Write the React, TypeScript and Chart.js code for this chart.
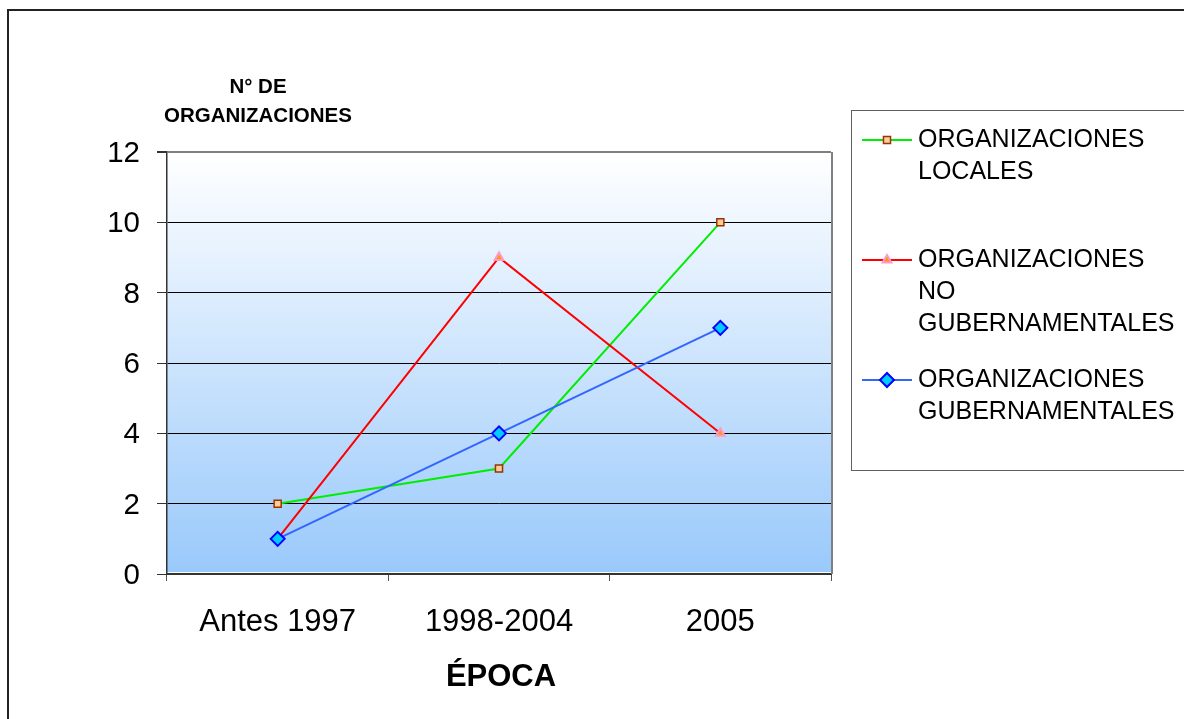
import { useEffect, useRef } from 'react';
import { Chart, registerables } from 'chart.js';

Chart.register(...registerables);

// Número de organizaciones por época
const epocas = ['Antes 1997', '1998-2004', '2005'];
const locales = [2, 3, 10];
const noGubernamentales = [1, 9, 4];
const gubernamentales = [1, 4, 7];

const legendLabels = [
  ['ORGANIZACIONES', 'LOCALES'],
  ['ORGANIZACIONES', 'NO', 'GUBERNAMENTALES'],
  ['ORGANIZACIONES', 'GUBERNAMENTALES'],
];
const yTitle = ['N° DE', 'ORGANIZACIONES'];
const xTitle = 'ÉPOCA';

const FONT = '"Liberation Sans", Arial, sans-serif';

function drawMarker(ctx: CanvasRenderingContext2D, style: string, x: number, y: number, r: number,
  fill: string, stroke: string, bw: number) {
  ctx.save();
  ctx.beginPath();
  if (style === 'rect') {
    const h = r * Math.SQRT1_2;
    ctx.rect(x - h, y - h, 2 * h, 2 * h);
  } else if (style === 'rectRot') {
    ctx.moveTo(x, y - r);
    ctx.lineTo(x + r, y);
    ctx.lineTo(x, y + r);
    ctx.lineTo(x - r, y);
    ctx.closePath();
  } else {
    const s = r * 1.5;
    ctx.moveTo(x, y - r);
    ctx.lineTo(x + s * 0.58, y + r * 0.5);
    ctx.lineTo(x - s * 0.58, y + r * 0.5);
    ctx.closePath();
  }
  ctx.fillStyle = fill;
  ctx.fill();
  ctx.lineWidth = bw;
  ctx.strokeStyle = stroke;
  ctx.stroke();
  ctx.restore();
}

const decorPlugin = {
  id: 'decor',
  beforeDraw(chart: any) {
    const { ctx, chartArea: a } = chart;
    const g = ctx.createLinearGradient(0, a.top, 0, a.bottom);
    g.addColorStop(0, '#ffffff');
    g.addColorStop(1, '#99c9fb');
    ctx.save();
    ctx.fillStyle = g;
    ctx.fillRect(a.left, a.top, a.right - a.left, a.bottom - a.top - 2);
    ctx.restore();
  },
  afterDraw(chart: any) {
    const { ctx, chartArea: a } = chart;
    ctx.save();
    // right border of plot area
    ctx.strokeStyle = '#808080';
    ctx.lineWidth = 2;
    ctx.beginPath();
    ctx.moveTo(a.right + 1, a.top);
    ctx.lineTo(a.right + 1, a.bottom);
    ctx.stroke();

    // axis titles
    ctx.fillStyle = '#000';
    ctx.textAlign = 'center';
    ctx.textBaseline = 'middle';
    ctx.font = `bold 20.5px ${FONT}`;
    ctx.fillText(yTitle[0], 258, 87);
    ctx.fillText(yTitle[1], 258, 116);
    ctx.font = `bold 31px ${FONT}`;
    ctx.fillText(xTitle, 501, 677);

    // legend box
    ctx.strokeStyle = '#606060';
    ctx.lineWidth = 1;
    ctx.strokeRect(851.5, 110.5, 400, 360);
    ctx.font = `25px ${FONT}`;
    ctx.textAlign = 'left';
    chart.data.datasets.forEach((ds: any, i: number) => {
      const y0 = 140 + i * 120;
      ctx.strokeStyle = ds.borderColor;
      ctx.lineWidth = 2;
      ctx.beginPath();
      ctx.moveTo(862, y0);
      ctx.lineTo(912, y0);
      ctx.stroke();
      drawMarker(ctx, ds.pointStyle, 887, y0, ds.pointRadius, ds.pointBackgroundColor,
        ds.pointBorderColor, ds.pointBorderWidth);
      ctx.fillStyle = '#000';
      legendLabels[i].forEach((t, j) => ctx.fillText(t, 918, y0 + j * 32));
    });

    // outer frame
    ctx.strokeStyle = '#222';
    ctx.lineWidth = 2;
    ctx.strokeRect(8, 10, 1400, 900);
    ctx.restore();
  },
};

export default function App() {
  const ref = useRef<HTMLCanvasElement>(null);

  useEffect(() => {
    if (!ref.current) return;
    const chart = new Chart(ref.current, {
      type: 'line',
      data: {
        labels: epocas,
        datasets: [
          {
            label: legendLabels[0].join(' '),
            data: locales,
            borderColor: '#00ee00',
            borderWidth: 2,
            pointStyle: 'rect',
            pointRadius: 5,
            pointBackgroundColor: '#ffcc99',
            pointBorderColor: '#993300',
            pointBorderWidth: 1.5,
            order: 3,
          },
          {
            label: legendLabels[1].join(' '),
            data: noGubernamentales,
            borderColor: '#ff0000',
            borderWidth: 2,
            pointStyle: 'triangle',
            pointRadius: 5,
            pointBackgroundColor: '#ff9900',
            pointBorderColor: '#ff99cc',
            pointBorderWidth: 2,
            order: 2,
          },
          {
            label: legendLabels[2].join(' '),
            data: gubernamentales,
            borderColor: '#3366ff',
            borderWidth: 2,
            pointStyle: 'rectRot',
            pointRadius: 7,
            pointBackgroundColor: '#00ccff',
            pointBorderColor: '#0000ff',
            pointBorderWidth: 2,
            order: 1,
          },
        ] as any,
      },
      options: {
        animation: false,
        responsive: false,
        devicePixelRatio: 1,
        layout: { padding: { left: 0, top: 152, right: 353, bottom: 0 } },
        plugins: {
          legend: { display: false },
          tooltip: { enabled: false },
          title: { display: false },
        },
        elements: { line: { tension: 0 } },
        scales: {
          x: {
            type: 'category',
            offset: true,
            afterFit: (s: any) => { s.height = 145; },
            grid: {
              offset: true,
              drawOnChartArea: false,
              drawTicks: true,
              tickLength: 7,
              color: '#555',
            },
            border: { color: '#333', width: 2 },
            ticks: {
              color: '#000',
              padding: 23,
              font: { family: FONT, size: 31 },
            },
          },
          y: {
            type: 'linear',
            min: 0,
            max: 12,
            afterFit: (s: any) => { s.width = 167; },
            grid: {
              color: (c: any) => (c.tick && c.tick.value === 12 ? '#808080' : c.tick && c.tick.value === 0 ? 'rgba(0,0,0,0)' : '#000'),
              tickColor: '#333',
              tickLength: 10,
              lineWidth: (c: any) => (c.tick && c.tick.value === 12 ? 2 : 1),
            },
            border: { color: '#333', width: 1.5 },
            ticks: {
              stepSize: 2,
              color: '#000',
              padding: 17,
              labelOffset: 2,
              font: { family: FONT, size: 29.5 },
            },
          },
        },
      },
      plugins: [decorPlugin],
    });
    return () => chart.destroy();
  }, []);

  return (
    <canvas
      ref={ref}
      width={1184}
      height={719}
      style={{ position: 'absolute', left: 0, top: 0, width: 1184, height: 719, display: 'block' }}
    />
  );
}
